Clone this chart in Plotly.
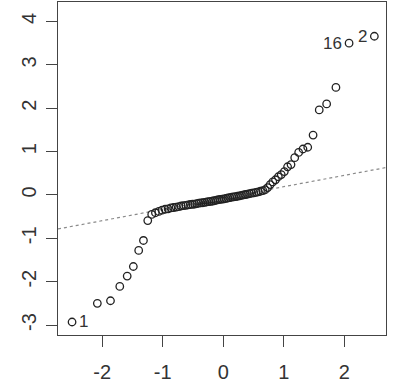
import numpy as np
import plotly.graph_objects as go

# theoretical normal quantiles (n = 80)
theo_q = [-2.4977, -2.0800, -1.8627, -1.7091, -1.5867, -1.4850, -1.3967, -1.3180,
          -1.2468, -1.1815, -1.1204, -1.0637, -1.0100, -0.9590, -0.9106, -0.8642,
          -0.8197, -0.7764, -0.7345, -0.6943, -0.6549, -0.6163, -0.5791, -0.5427,
          -0.5063, -0.4713, -0.4367, -0.4023, -0.3688, -0.3356, -0.3024, -0.2694,
          -0.2371, -0.2047, -0.1729, -0.1414, -0.1099, -0.0784, -0.0470, -0.0157]
theo_q = theo_q + [-v for v in reversed(theo_q)]

# sorted sample values
sample = [-2.93, -2.50, -2.44, -2.11, -1.87, -1.65, -1.28, -1.05, -0.59,
          -0.45, -0.41, -0.38, -0.35, -0.33, -0.32, -0.30, -0.29, -0.28, -0.27,
          -0.255, -0.245, -0.24, -0.23, -0.22, -0.215, -0.21, -0.20, -0.19, -0.185,
          -0.18, -0.17, -0.16, -0.155, -0.15, -0.14, -0.13, -0.12, -0.11, -0.10,
          -0.095, -0.09, -0.08, -0.07, -0.06, -0.05, -0.045, -0.04, -0.03, -0.02,
          -0.01, 0.00, 0.01, 0.02, 0.03, 0.04, 0.05, 0.06, 0.07, 0.085,
          0.10, 0.12, 0.17, 0.24, 0.30, 0.35, 0.42, 0.47, 0.54, 0.65, 0.70,
          0.86, 0.98, 1.06, 1.10, 1.38, 1.96, 2.10, 2.48, 3.50, 3.66]

# labelled observations: (rank in sorted order, label, side)
labelled = [(0, "1", "right"), (78, "16", "left"), (79, "2", "left")]

x_ticks = [-2, -1, 0, 1, 2]
x_tick_text = ["-2", "-1", "0", "1", "2"]
y_ticks = [-3, -2, -1, 0, 1, 2, 3, 4]
y_tick_text = ["-3", "-2", "-1", "0", "1", "2", "3", "4"]
x_range = [-2.73, 2.69]
y_range = [-3.23, 4.45]

# qqline through quartiles
q1, q3 = np.quantile(sample, [0.25, 0.75])
z = 0.6745
slope = (q3 - q1) / (2 * z)
intercept = q1 + slope * z

FONT = "Liberation Sans, Arial"

fig = go.Figure()
fig.add_trace(go.Scatter(
    x=x_range, y=[intercept + slope * v for v in x_range],
    mode="lines", line=dict(color="#8a8a8a", width=1.2, dash="dot"),
    hoverinfo="skip", showlegend=False))
fig.add_trace(go.Scatter(
    x=theo_q, y=sample, mode="markers",
    marker=dict(symbol="circle-open", size=7.5, color="#222222", line=dict(width=1.3)),
    showlegend=False))

for idx, lab, side in labelled:
    fig.add_annotation(
        x=theo_q[idx], y=sample[idx], text=lab, showarrow=False,
        xanchor="left" if side == "right" else "right",
        xshift=5 if side == "right" else -5,
        font=dict(family=FONT, size=17, color="#333333"))

axis_common = dict(
    showgrid=False, zeroline=False, showline=True, mirror=True, automargin=False,
    linecolor="#444444", linewidth=1.2, ticks="outside", ticklen=11,
    tickwidth=1.2, tickcolor="#444444",
    tickfont=dict(family=FONT, size=20, color="#333333"))

fig.update_layout(
    width=399, height=392,
    margin=dict(l=58, r=13, t=2, b=57),
    paper_bgcolor="white", plot_bgcolor="white",
    xaxis=dict(range=x_range, tickvals=x_ticks, ticktext=x_tick_text,
               ticklabelstandoff=8, **axis_common),
    yaxis=dict(range=y_range, tickvals=y_ticks, ticktext=y_tick_text, tickangle=-90,
               ticklabelstandoff=2, **axis_common),
)

fig.write_html("out.html", config={"displayModeBar": False},
               post_script="document.body.style.margin='0';")
